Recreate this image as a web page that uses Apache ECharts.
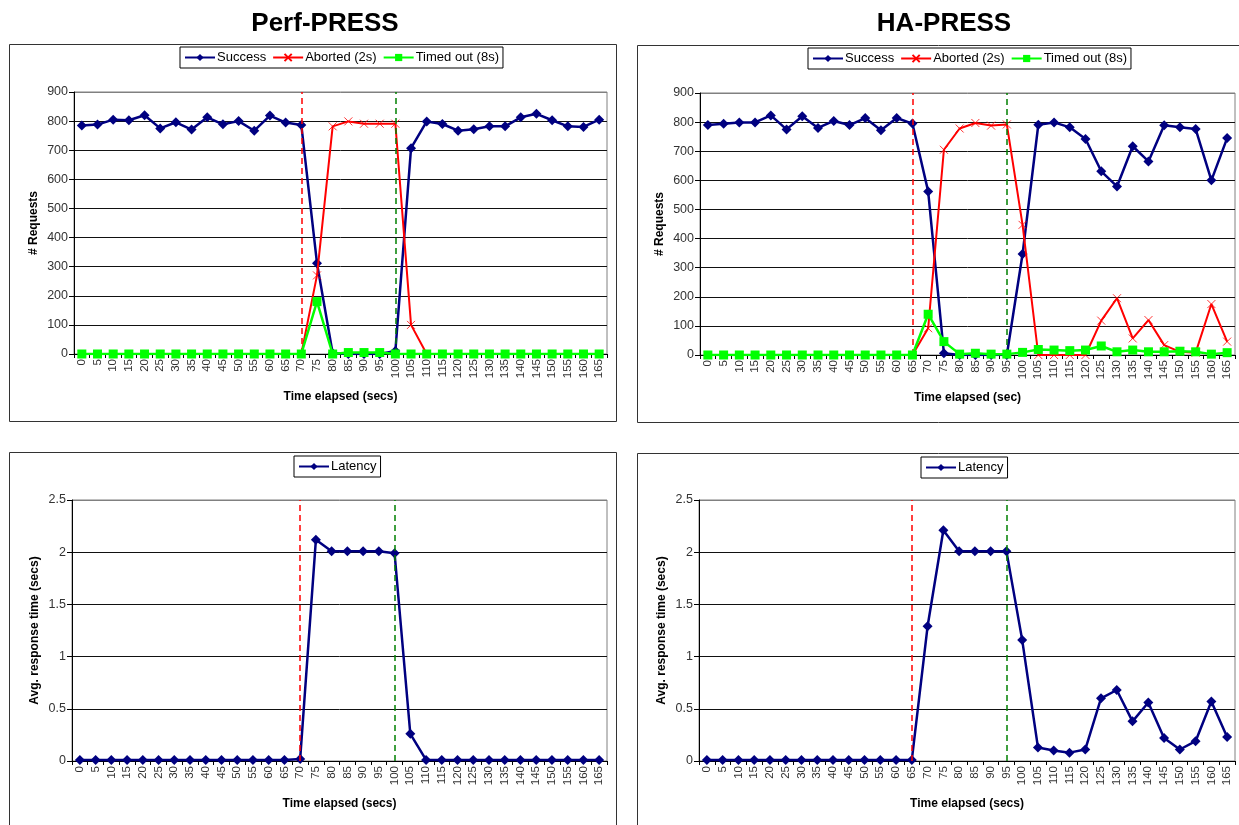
<!DOCTYPE html>
<html>
<head>
<meta charset="utf-8">
<script src="https://cdn.jsdelivr.net/npm/echarts@6/dist/echarts.min.js"></script>
<style>
html,body{margin:0;padding:0;background:#fff;}
#c{width:1239px;height:825px;}
</style>
</head>
<body>
<div id="c"></div>
<script>
// ---- data ----
const categories = ['0','5','10','15','20','25','30','35','40','45','50','55','60','65','70','75','80','85','90','95','100','105','110','115','120','125','130','135','140','145','150','155','160','165'];
const requestTicks = [0,100,200,300,400,500,600,700,800,900];
const latencyTicks = [0,0.5,1,1.5,2,2.5];

const perfSuccess = [785,788,805,803,820,775,796,771,813,789,800,767,819,795,787,312,3,0,0,0,10,707,799,790,767,772,782,782,813,825,803,782,780,805];
const perfAborted = [0,0,0,0,0,0,0,0,0,0,0,0,0,0,0,270,782,799,791,791,791,100,0,0,0,0,0,0,0,0,0,0,0,0];
const perfTimeout = [0,0,0,0,0,0,0,0,0,0,0,0,0,0,0,180,0,5,5,5,0,0,0,0,0,0,0,0,0,0,0,0,0,0];

const haSuccess = [790,794,799,799,823,775,820,780,804,790,814,772,814,795,562,6,0,0,0,0,347,791,799,782,742,631,579,717,665,789,782,776,600,745];
const haAborted = [0,0,0,0,0,0,0,0,0,0,0,0,0,0,92,705,778,797,788,792,447,0,0,0,0,118,195,57,120,34,11,8,175,46];
const haTimeout = [0,0,0,0,0,0,0,0,0,0,0,0,0,0,140,46,3,6,3,3,9,19,17,15,17,31,11,17,11,11,13,11,3,8];

const perfLatency = [0.01,0.01,0.01,0.01,0.01,0.01,0.01,0.01,0.01,0.01,0.01,0.01,0.01,0.01,0.02,2.12,2.01,2.01,2.01,2.01,1.99,0.26,0.01,0.01,0.01,0.01,0.01,0.01,0.01,0.01,0.01,0.01,0.01,0.01];
const haLatency = [0.01,0.01,0.01,0.01,0.01,0.01,0.01,0.01,0.01,0.01,0.01,0.01,0.01,0.01,1.29,2.21,2.01,2.01,2.01,2.01,1.16,0.13,0.10,0.08,0.11,0.60,0.68,0.38,0.56,0.22,0.11,0.19,0.57,0.23];

const perfFailover = ['70','100'];   // red = failure, green = recovery
const haFailover = ['65','95'];

// ---- styling ----
const FONT = '"Liberation Sans", Arial, sans-serif';
const NAVY = '#000080', RED = '#FF0000', GREEN = '#00FF00';

const chart = echarts.init(document.getElementById('c'), null, {renderer:'canvas'});

const grids = [
  {left:74, top:92, width:533, height:262},
  {left:700, top:93, width:535, height:262},
  {left:72, top:500, width:535, height:261},
  {left:699, top:500, width:536, height:261}
].map(g => Object.assign({show:true, borderColor:'#808080', borderWidth:1, backgroundColor:'#fff'}, g));

function xAxis(i, name) {
  return {
    type:'category', gridIndex:i, data:categories, boundaryGap:true,
    name:name, nameLocation:'middle', nameGap:37,
    nameTextStyle:{fontFamily:FONT, fontSize:12, fontWeight:'bold', color:'#000'},
    axisLine:{lineStyle:{color:'#000', width:1}},
    axisTick:{show:true, length:4, lineStyle:{color:'#000'}},
    axisLabel:{interval:0, rotate:90, fontFamily:FONT, fontSize:11.5, color:'#333', margin:5},
    splitLine:{show:false}
  };
}
function yAxis(i, name, max, step, nGap, count) {
  const cols = [];
  for (let k = 0; k < count; k++) cols.push(k === count - 1 ? '#808080' : '#111');
  return {
    type:'value', gridIndex:i, min:0, max:max, interval:step,
    name:name, nameLocation:'middle', nameGap:nGap,
    nameTextStyle:{fontFamily:FONT, fontSize:12, fontWeight:'bold', color:'#000'},
    axisLine:{show:true, lineStyle:{color:'#000', width:1}},
    axisTick:{show:true, length:5, lineStyle:{color:'#000'}},
    axisLabel:{fontFamily:FONT, fontSize:12.5, color:'#333', margin:6},
    splitLine:{show:true, lineStyle:{color:cols, width:1}}
  };
}
function vlines(vals) {
  return {
    silent:true, symbol:['none','none'], label:{show:false},
    data:[
      {xAxis:vals[0], lineStyle:{color:RED, type:[6,4], width:1.5}},
      {xAxis:vals[1], lineStyle:{color:'#008000', type:[6,4], width:1.5}}
    ]
  };
}
function success(i, data, name, lines) {
  const s = {
    type:'line', name:name, xAxisIndex:i, yAxisIndex:i, data:data,
    symbol:'diamond', symbolSize:10, showSymbol:true,
    lineStyle:{color:NAVY, width:2.5}, itemStyle:{color:NAVY}, z:3
  };
  if (lines) s.markLine = vlines(lines);
  return s;
}
function aborted(i, data) {
  return {
    type:'line', name:'Aborted (2s)', xAxisIndex:i, yAxisIndex:i, data:data,
    symbol:'path://M0,0L10,10M10,0L0,10', symbolSize:8,
    lineStyle:{color:RED, width:2}, itemStyle:{color:RED, borderColor:RED, borderWidth:0.8}, z:4
  };
}
function timeout(i, data) {
  return {
    type:'line', name:'Timed out (8s)', xAxisIndex:i, yAxisIndex:i, data:data,
    symbol:'rect', symbolSize:9,
    lineStyle:{color:GREEN, width:2.5}, itemStyle:{color:GREEN}, z:5
  };
}
function legend(cx, top, names) {
  const est = names.length === 1 ? 84 : 320;
  return {
    left: cx - est / 2, top: top, orient:'horizontal', data:names,
    itemWidth:30, itemHeight:9, itemGap:6,
    formatter: n => n.trim(),
    padding:[4,4,4,4], borderColor:'#000', borderWidth:1, backgroundColor:'#fff',
    textStyle:{fontFamily:FONT, fontSize:13, color:'#000', padding:[0,0,0,-3]},
    selectedMode:false
  };
}

const boxes = [
  [9,44,607,377],[637,45,602,377],[9,452,607,380],[637,453,602,380]
].map(b => ({type:'rect', shape:{x:b[0]+0.5, y:b[1]+0.5, width:b[2], height:b[3]}, style:{fill:'none', stroke:'#333', lineWidth:1}, z:-10, silent:true}));

const option = {
  animation:false,
  backgroundColor:'#fff',
  title:[
    {text:'Perf-PRESS', left:320, top:6, textAlign:'center', textStyle:{fontFamily:FONT, fontSize:26, fontWeight:'bold', color:'#000'}},
    {text:'HA-PRESS', left:939, top:6, textAlign:'center', textStyle:{fontFamily:FONT, fontSize:26, fontWeight:'bold', color:'#000'}}
  ],
  graphic: boxes,
  legend:[
    legend(340, 47, ['Success','Aborted (2s)','Timed out (8s)']),
    legend(968, 48, ['Success ','Aborted (2s) ','Timed out (8s) ']),
    legend(336, 456, ['Latency']),
    legend(963, 457, ['Latency '])
  ],
  grid: grids,
  xAxis:[
    xAxis(0,'Time elapsed (secs)'),
    xAxis(1,'Time elapsed (sec)'),
    xAxis(2,'Time elapsed (secs)'),
    xAxis(3,'Time elapsed (secs)')
  ],
  yAxis:[
    yAxis(0,'# Requests',900,100,34,requestTicks.length),
    yAxis(1,'# Requests',900,100,34,requestTicks.length),
    yAxis(2,'Avg. response time (secs)',2.5,0.5,31,latencyTicks.length),
    yAxis(3,'Avg. response time (secs)',2.5,0.5,31,latencyTicks.length)
  ],
  series:[
    success(0, perfSuccess, 'Success', perfFailover),
    aborted(0, perfAborted),
    timeout(0, perfTimeout),
    success(1, haSuccess, 'Success ', haFailover),
    Object.assign(aborted(1, haAborted), {name:'Aborted (2s) '}),
    Object.assign(timeout(1, haTimeout), {name:'Timed out (8s) '}),
    success(2, perfLatency, 'Latency', perfFailover),
    success(3, haLatency, 'Latency ', haFailover)
  ]
};
chart.setOption(option);
</script>
</body>
</html>
